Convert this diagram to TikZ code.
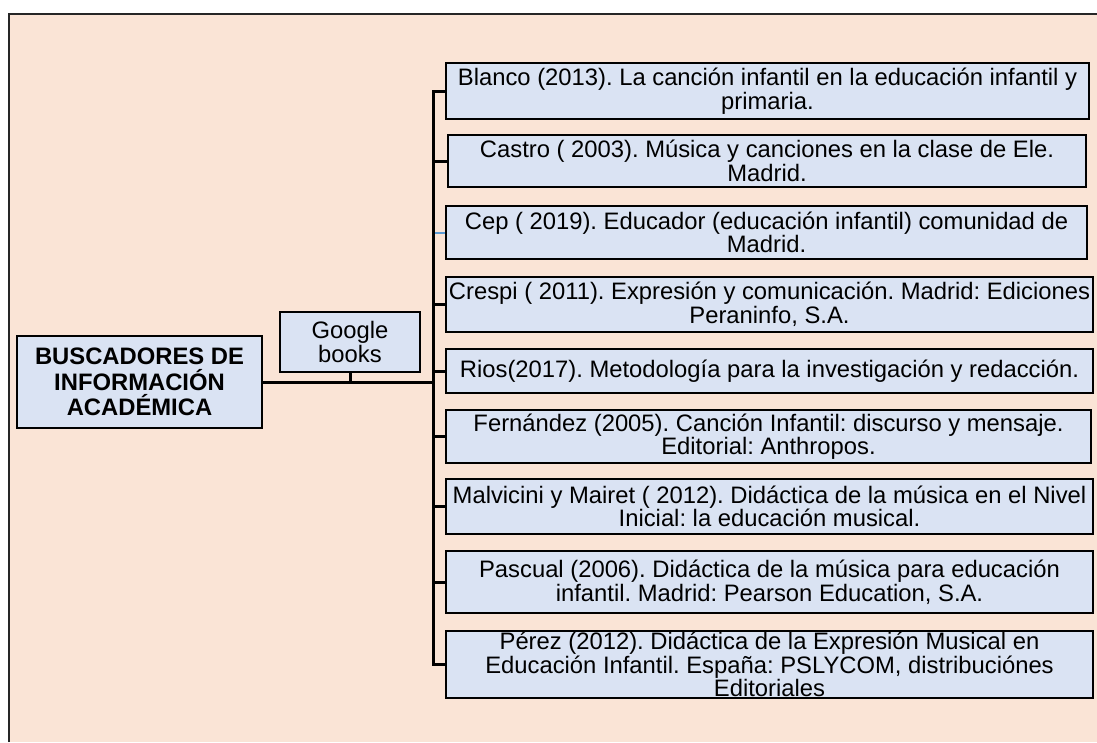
\documentclass[tikz,border=0pt]{standalone}
\usepackage{fontspec}
\setmainfont{Liberation Sans}
\usepackage{xcolor}
\usepackage{tikz}
\usetikzlibrary{positioning}
\frenchspacing

\definecolor{peach}{HTML}{FAE4D6}
\definecolor{paleblue}{HTML}{DAE3F3}
\definecolor{linkblue}{HTML}{5B9BD5}

\tikzset{
	box/.style={draw=black,fill=paleblue,line width=2.5pt,inner sep=0pt,align=center,
		font=\fontsize{23.8}{23.5}\selectfont},
	conn/.style={draw=black,line width=3pt}
}

\begin{document}
\begin{tikzpicture}[x=1pt,y=-1pt]
	
	\useasboundingbox (0,0) rectangle (1097,742);
	\fill[peach] (9,14) rectangle (1097,742);
	\draw[black!85,line width=2pt] (9,742) -- (9,14) -- (1097,14);
	
	\node[box,minimum width=245,minimum height=92,font=\fontsize{23.8}{25.5}\selectfont\bfseries] (root) at (139.5,382) {BUSCADORES DE\\INFORMACIÓN\\ACADÉMICA};
	\node[box,minimum width=140,minimum height=60,font=\fontsize{23.8}{24}\selectfont] (google) at (350,342) {Google\\books};
	
	\node[box,minimum width=643,minimum height=56] (b1) at (767.5,91) {Blanco (2013). La canción infantil en la educación infantil y\\primaria.};
	\node[box,minimum width=638,minimum height=52] (b2) at (767,161) {Castro ( 2003). Música y canciones en la clase de Ele.\\Madrid.};
	\node[box,minimum width=641,minimum height=53] (b3) at (766.5,232.5) {Cep ( 2019). Educador (educación infantil) comunidad de\\Madrid.};
	\node[box,minimum width=647,minimum height=55] (b4) at (769.5,304.5) {Crespi ( 2011). Expresión y comunicación. Madrid: Ediciones\\Peraninfo, S.A.};
	\node[box,minimum width=647,minimum height=44] (b5) at (769.5,371) {Rios(2017). Metodología para la investigación y redacción.};
	\node[box,minimum width=645,minimum height=53] (b6) at (768.5,436.5) {Fernández (2005). Canción Infantil: discurso y mensaje.\\Editorial: Anthropos.};
	\node[box,minimum width=647,minimum height=55] (b7) at (769.5,506.5) {Malvicini y Mairet ( 2012). Didáctica de la música en el Nivel\\Inicial: la educación musical.};
	\node[box,minimum width=647,minimum height=62] (b8) at (769.5,582) {Pascual (2006). Didáctica de la música para educación\\infantil. Madrid: Pearson Education, S.A.};
	\node[box,minimum width=647,minimum height=67] (b9) at (769.5,664.5) {Pérez (2012). Didáctica de la Expresión Musical en\\Educación Infantil. España: PSLYCOM, distribuciónes\\Editoriales};
	
	\coordinate (bus) at (433,382);
	
	\draw[linkblue,line width=2pt] (bus |- b3) -- (b3);
	\path [conn] (root) -- (bus);
	\path [conn] (google) -- (google |- bus);
	\path [conn] (bus) |- (b1);
	\path [conn] (bus) |- (b2);
	\path [conn] (bus) |- (b4);
	\path [conn] (bus) |- (b5);
	\path [conn] (bus) |- (b6);
	\path [conn] (bus) |- (b7);
	\path [conn] (bus) |- (b8);
	\path [conn] (bus) |- (b9);
	
\end{tikzpicture}
\end{document}
